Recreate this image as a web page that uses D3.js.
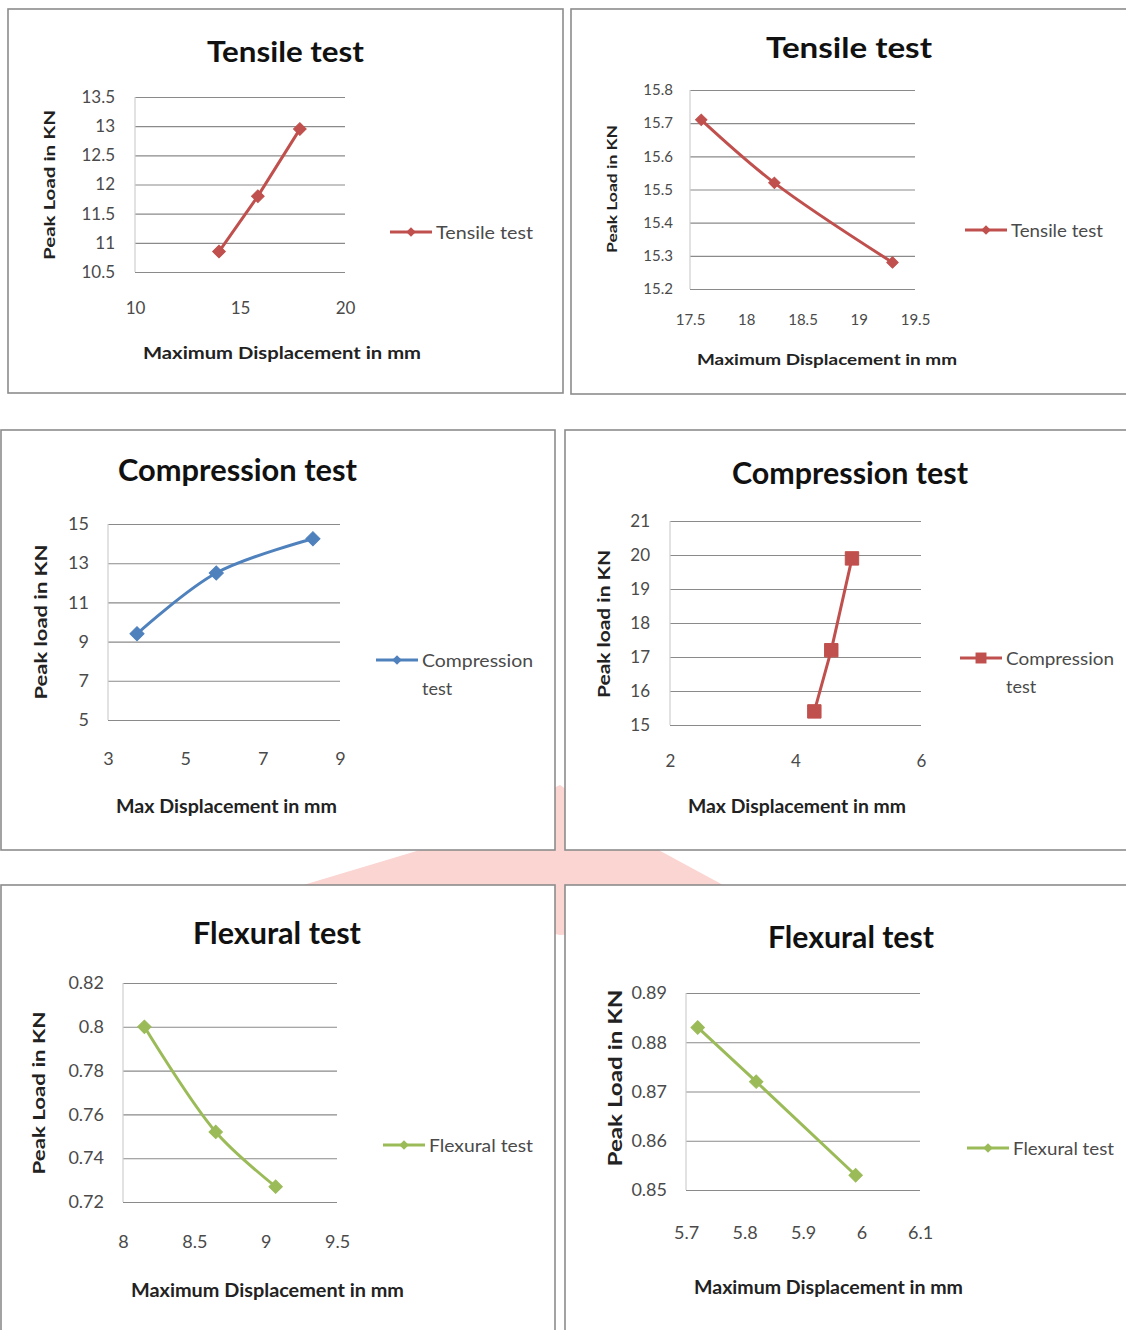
<!DOCTYPE html>
<html>
<head>
<meta charset="utf-8">
<script src="https://cdn.jsdelivr.net/npm/d3@7"></script>
<style>
  body { margin: 0; background: #fff; }
  svg { display: block; font-family: Lato, "Open Sans", sans-serif; }
</style>
</head>
<body>
<div id="drawing"></div>
<script>
// values
// tensile test, first specimen
const tensile1X = [14, 15.85, 17.85];
const tensile1Y = [10.85, 11.8, 12.95];
const tensile1XTicks = [10, 15, 20];
const tensile1YTicks = [10.5, 11, 11.5, 12, 12.5, 13, 13.5];

// tensile test, second specimen
const tensile2X = [17.6, 18.25, 19.3];
const tensile2Y = [15.71, 15.52, 15.28];
const tensile2XTicks = [17.5, 18, 18.5, 19, 19.5];
const tensile2YTicks = [15.2, 15.3, 15.4, 15.5, 15.6, 15.7, 15.8];

// compression test
const compression1X = [3.75, 5.8, 8.3];
const compression1Y = [9.4, 12.5, 14.25];
const compression1XTicks = [3, 5, 7, 9];
const compression1YTicks = [5, 7, 9, 11, 13, 15];

const compression2X = [4.3, 4.57, 4.9];
const compression2Y = [15.4, 17.2, 19.9];
const compression2XTicks = [2, 4, 6];
const compression2YTicks = [15, 16, 17, 18, 19, 20, 21];

// flexural test
const flexural1X = [8.15, 8.65, 9.07];
const flexural1Y = [0.8, 0.752, 0.727];
const flexural1XTicks = [8, 8.5, 9, 9.5];
const flexural1YTicks = [0.72, 0.74, 0.76, 0.78, 0.8, 0.82];

const flexural2X = [5.72, 5.82, 5.99];
const flexural2Y = [0.883, 0.872, 0.853];
const flexural2XTicks = [5.7, 5.8, 5.9, 6, 6.1];
const flexural2YTicks = [0.85, 0.86, 0.87, 0.88, 0.89];

const red = "#c0504d", blue = "#4f81bd", green = "#9bbb59";

// layout of each panel (box, plot area, text placement)
const panels = [
  { xs: tensile1X, ys: tensile1Y, xt: tensile1XTicks, yt: tensile1YTicks,
    title: "Tensile test", ylab: "Peak Load in KN", xlab: "Maximum Displacement in mm",
    legend: ["Tensile test"], color: red, marker: "diamond", msize: 80, smooth: false,
    box: [8, 9, 555, 384], px: [135, 345], py: [272, 97],
    titleAt: [285.5, 50, 157, 29], ylabAt: [48, 185, 150, 16], xlabAt: [282, 352, 278, 17],
    tickFont: 17, xTickY: 36, yPad: 20, legAt: [390, 232, 97] },
  { xs: tensile2X, ys: tensile2Y, xt: tensile2XTicks, yt: tensile2YTicks,
    title: "Tensile test", ylab: "Peak Load in KN", xlab: "Maximum Displacement in mm",
    legend: ["Tensile test"], color: red, marker: "diamond", msize: 65, smooth: true,
    box: [571, 9, 570, 385], px: [690, 915], py: [289, 90],
    titleAt: [849, 46, 166, 29], ylabAt: [611, 189, 128, 14], xlabAt: [827, 358, 260, 16],
    tickFont: 15, xTickY: 31, yPad: 17, legAt: [965, 230, 92] },
  { xs: compression1X, ys: compression1Y, xt: compression1XTicks, yt: compression1YTicks,
    title: "Compression test", ylab: "Peak load in KN", xlab: "Max Displacement in mm",
    legend: ["Compression", "test"], color: blue, marker: "diamond", msize: 100, smooth: true,
    box: [1, 430, 554, 420], px: [108, 340], py: [720, 524],
    titleAt: [237.5, 469, 239, 30], ylabAt: [40, 622, 155, 17], xlabAt: [226.5, 806, 221, 18],
    tickFont: 18, xTickY: 39, yPad: 19, legAt: [376, 660, 111] },
  { xs: compression2X, ys: compression2Y, xt: compression2XTicks, yt: compression2YTicks,
    title: "Compression test", ylab: "Peak load in KN", xlab: "Max Displacement in mm",
    legend: ["Compression", "test"], color: red, marker: "square", msize: 180, smooth: false,
    box: [565, 430, 570, 420], px: [670, 921], py: [725, 521],
    titleAt: [850, 472, 236, 30], ylabAt: [603, 624, 148, 17], xlabAt: [797, 806, 218, 18],
    tickFont: 17, xTickY: 36, yPad: 20, legAt: [960, 658, 108] },
  { xs: flexural1X, ys: flexural1Y, xt: flexural1XTicks, yt: flexural1YTicks,
    title: "Flexural test", ylab: "Peak Load in KN", xlab: "Maximum Displacement in mm",
    legend: ["Flexural test"], color: green, marker: "diamond", msize: 90, smooth: true,
    box: [1, 885, 554, 460], px: [123, 337], py: [1202, 983],
    titleAt: [277, 932, 168, 30], ylabAt: [38, 1093, 163, 17], xlabAt: [267.5, 1290, 273, 18],
    tickFont: 18, xTickY: 40, yPad: 19, legAt: [383, 1145, 104] },
  { xs: flexural2X, ys: flexural2Y, xt: flexural2XTicks, yt: flexural2YTicks,
    title: "Flexural test", ylab: "Peak Load in KN", xlab: "Maximum Displacement in mm",
    legend: ["Flexural test"], color: green, marker: "diamond", msize: 90, smooth: false,
    box: [565, 885, 570, 460], px: [686, 920], py: [1190, 993],
    titleAt: [851, 936, 166, 31], ylabAt: [614, 1078, 177, 19], xlabAt: [828.5, 1286, 269, 19],
    tickFont: 18, xTickY: 43, yPad: 19, legAt: [967, 1148, 101] }
];

const svg = d3.select("#drawing").append("svg")
  .attr("width", 1126)
  .attr("height", 1330);

// faint watermark from the page behind the charts
svg.append("path")
  .attr("d", "M300,886 L420,850 L560,785 L640,840 L725,886 L640,930 L560,935 Z")
  .attr("fill", "#fbd5d1");

function markerPath(size) {
  return d3.symbol().type(d3.symbolSquare).size(size)();
}

function drawPanel(p) {
  const g = svg.append("g");

  // chart box
  g.append("rect")
    .attr("x", p.box[0]).attr("y", p.box[1])
    .attr("width", p.box[2]).attr("height", p.box[3])
    .attr("fill", "#fff")
    .attr("stroke", "#8c8c8c")
    .attr("stroke-width", 1.6);

  const x = d3.scaleLinear().domain(d3.extent(p.xt)).range(p.px);
  const y = d3.scaleLinear().domain(d3.extent(p.yt)).range(p.py);
  const fmt = d => String(+d.toFixed(4));

  // y axis with gridlines
  const yAxis = g.append("g")
    .attr("transform", `translate(${p.px[0]},0)`)
    .call(d3.axisLeft(y).tickValues(p.yt).tickSize(-(p.px[1] - p.px[0])).tickPadding(p.yPad).tickFormat(fmt));
  yAxis.select(".domain").remove();
  yAxis.selectAll(".tick line").attr("stroke", "#8a8a8a").attr("stroke-width", 1.1);
  yAxis.selectAll("text")
    .attr("font-size", p.tickFont)
    .attr("font-family", "Lato, sans-serif")
    .attr("fill", "#4a4a4a");

  // vertical axis line
  g.append("line")
    .attr("x1", p.px[0]).attr("x2", p.px[0])
    .attr("y1", p.py[0]).attr("y2", p.py[1])
    .attr("stroke", "#cfcfcf").attr("stroke-width", 1.2);

  // x axis labels only
  const xAxis = g.append("g")
    .attr("transform", `translate(0,${p.py[0]})`)
    .call(d3.axisBottom(x).tickValues(p.xt).tickSize(0).tickFormat(fmt));
  xAxis.select(".domain").remove();
  xAxis.selectAll("text")
    .attr("y", p.xTickY).attr("dy", "0.35em")
    .attr("font-size", p.tickFont)
    .attr("font-family", "Lato, sans-serif")
    .attr("fill", "#4a4a4a");

  // title
  g.append("text")
    .attr("x", p.titleAt[0]).attr("y", p.titleAt[1])
    .attr("text-anchor", "middle").attr("dominant-baseline", "central")
    .attr("font-size", p.titleAt[3]).attr("font-weight", "bold")
    .attr("textLength", p.titleAt[2]).attr("lengthAdjust", "spacingAndGlyphs")
    .attr("fill", "#111")
    .text(p.title);

  // axis titles
  g.append("text")
    .attr("transform", `translate(${p.ylabAt[0]},${p.ylabAt[1]}) rotate(-90)`)
    .attr("text-anchor", "middle").attr("dominant-baseline", "central")
    .attr("font-size", p.ylabAt[3]).attr("font-weight", "bold")
    .attr("textLength", p.ylabAt[2]).attr("lengthAdjust", "spacingAndGlyphs")
    .attr("fill", "#222")
    .text(p.ylab);

  g.append("text")
    .attr("x", p.xlabAt[0]).attr("y", p.xlabAt[1])
    .attr("text-anchor", "middle").attr("dominant-baseline", "central")
    .attr("font-size", p.xlabAt[3]).attr("font-weight", "bold")
    .attr("textLength", p.xlabAt[2]).attr("lengthAdjust", "spacingAndGlyphs")
    .attr("fill", "#222")
    .text(p.xlab);

  // series
  const pts = p.xs.map((v, i) => [v, p.ys[i]]);
  const line = d3.line()
    .x(d => x(d[0])).y(d => y(d[1]))
    .curve(p.smooth ? d3.curveCatmullRom.alpha(0.5) : d3.curveLinear);

  g.append("path")
    .datum(pts)
    .attr("d", line)
    .attr("fill", "none")
    .attr("stroke", p.color)
    .attr("stroke-width", 3)
    .attr("stroke-linejoin", "round");

  const rot = p.marker === "diamond" ? 45 : 0;
  g.selectAll("path.mark")
    .data(pts)
    .enter()
    .append("path")
    .attr("class", "mark")
    .attr("d", markerPath(p.msize))
    .attr("transform", d => `translate(${x(d[0])},${y(d[1])}) rotate(${rot})`)
    .attr("fill", p.color)
    .attr("stroke", p.color)
    .attr("stroke-width", 1);

  // legend
  const lx = p.legAt[0], ly = p.legAt[1];
  g.append("line")
    .attr("x1", lx).attr("x2", lx + 42)
    .attr("y1", ly).attr("y2", ly)
    .attr("stroke", p.color).attr("stroke-width", 3);
  g.append("path")
    .attr("d", markerPath(p.marker === "diamond" ? 45 : 120))
    .attr("transform", `translate(${lx + 21},${ly}) rotate(${rot})`)
    .attr("fill", p.color);

  p.legend.forEach((t, i) => {
    g.append("text")
      .attr("x", lx + 46).attr("y", ly + i * 28)
      .attr("dominant-baseline", "central")
      .attr("font-size", 18)
      .attr("fill", "#4a4a4a")
      .attr("textLength", i === 0 ? p.legAt[2] : null)
      .attr("lengthAdjust", "spacingAndGlyphs")
      .text(t);
  });
}

panels.forEach(drawPanel);
</script>
</body>
</html>
